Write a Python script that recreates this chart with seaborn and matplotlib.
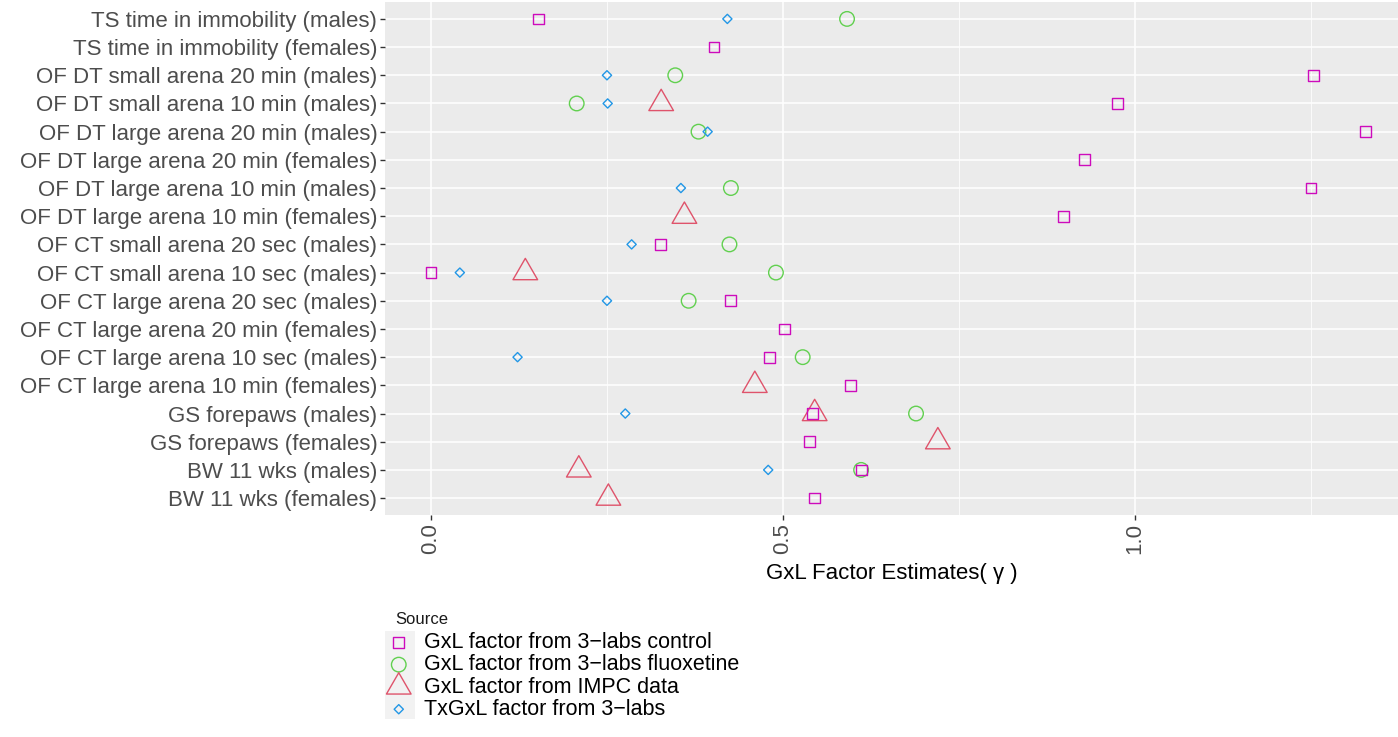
import numpy as np
import pandas as pd
import matplotlib
matplotlib.use("Agg")
import matplotlib.pyplot as plt
import seaborn as sns
from matplotlib.ticker import FixedLocator
from matplotlib.patches import Rectangle
from matplotlib.path import Path

categories = [
    "TS time in immobility (males)",
    "TS time in immobility (females)",
    "OF DT small arena 20 min (males)",
    "OF DT small arena 10 min (males)",
    "OF DT large arena 20 min (males)",
    "OF DT large arena 20 min (females)",
    "OF DT large arena 10 min (males)",
    "OF DT large arena 10 min (females)",
    "OF CT small arena 20 sec (males)",
    "OF CT small arena 10 sec (males)",
    "OF CT large arena 20 sec (males)",
    "OF CT large arena 20 min (females)",
    "OF CT large arena 10 sec (males)",
    "OF CT large arena 10 min (females)",
    "GS forepaws (males)",
    "GS forepaws (females)",
    "BW 11 wks (males)",
    "BW 11 wks (females)",
]
nan = np.nan
gxl_control = [0.153, 0.402, 1.254, 0.975, 1.327, 0.928, 1.250, 0.898, 0.326, 0.0,
               0.425, 0.502, 0.481, 0.596, 0.542, 0.538, 0.611, 0.545]
gxl_fluoxetine = [0.591, nan, 0.347, 0.207, 0.380, nan, 0.426, nan, 0.424, 0.490,
                  0.366, nan, 0.528, nan, 0.689, nan, 0.611, nan]
gxl_impc = [nan, nan, nan, 0.327, nan, nan, nan, 0.360, nan, 0.134,
            nan, nan, nan, 0.460, 0.545, 0.720, 0.210, 0.252]
txgxl = [0.421, nan, 0.250, 0.251, 0.393, nan, 0.355, nan, 0.285, 0.041,
         0.250, nan, 0.123, nan, 0.276, nan, 0.479, nan]

series_names = [
    "GxL factor from 3\u2212labs control",
    "GxL factor from 3\u2212labs fluoxetine",
    "GxL factor from IMPC data",
    "TxGxL factor from 3\u2212labs",
]
series_values = [gxl_control, gxl_fluoxetine, gxl_impc, txgxl]
legend_title = "Source"

tri = Path([(-1, -0.577), (1, -0.577), (0, 1.155), (-1, -0.577)],
           [Path.MOVETO, Path.LINETO, Path.LINETO, Path.CLOSEPOLY])
styles = {
    series_names[0]: dict(color="#CD0BBC", marker="s", s=60, z=6),
    series_names[1]: dict(color="#61D04F", marker="o", s=110, z=3),
    series_names[2]: dict(color="#DF536B", marker=tri, s=420, z=4),
    series_names[3]: dict(color="#2297E6", marker="D", s=22, z=5),
}

W, H = 1398, 737
fig = plt.figure(figsize=(W / 100, H / 100), dpi=100)
plt.rcParams["font.family"] = ["Liberation Sans", "DejaVu Sans"]
ax = fig.add_axes([385 / W, 1 - 515 / H, (W - 385) / W, 513 / H])
ax.set_facecolor("#EBEBEB")

handles = []
for name, vals in zip(series_names, series_values):
    df = pd.DataFrame({"Measure": categories, "Estimate": vals}).dropna()
    st = styles[name]
    sns.scatterplot(data=df, x="Estimate", y="Measure", ax=ax, marker=st["marker"],
                    s=st["s"], facecolor="none", edgecolor=st["color"],
                    linewidth=1.0, zorder=st["z"], label=name, legend=False)
    handles.append(ax.collections[-1])

ax.set_ylim(len(categories) - 0.4, -0.6)
ax.set_xlim(-0.0653, 1.3736)

ax.xaxis.set_major_locator(FixedLocator([0.0, 0.5, 1.0]))
ax.xaxis.set_minor_locator(FixedLocator([0.25, 0.75, 1.25]))
ax.set_xticklabels(["0.0", "0.5", "1.0"], rotation=90)
ax.grid(which="major", axis="both", color="white", linewidth=1.1, zorder=0)
ax.grid(which="minor", axis="x", color="white", linewidth=0.55, zorder=0)
ax.set_axisbelow(True)
for sp in ax.spines.values():
    sp.set_visible(False)
ax.tick_params(axis="both", which="major", length=3.5, width=1.0, color="#333333",
               labelcolor="#4D4D4D", labelsize=16, pad=2)
ax.tick_params(axis="x", which="minor", length=0)
ax.set_ylabel("")
ax.set_xlabel("GxL Factor Estimates( \u03b3 )", fontsize=16, color="black", labelpad=7)

fig.patches.append(Rectangle((385 / W, 1 - 719 / H), 30 / W, 88 / H,
                             transform=fig.transFigure, facecolor="#F2F2F2",
                             edgecolor="none", zorder=0))
fig.text(395 / W, 1 - 620 / H, legend_title, fontsize=12, color="#1A1A1A",
         ha="left", va="center")
leg = fig.legend(handles, series_names, loc="upper left",
                 bbox_to_anchor=(388 / W, 1 - 632 / H), frameon=False,
                 fontsize=15.5, handletextpad=0.65, labelspacing=0.06,
                 handlelength=1.0, handleheight=0.7, borderaxespad=0,
                 borderpad=0, scatterpoints=1)

fig.savefig("out.png", dpi=100)
